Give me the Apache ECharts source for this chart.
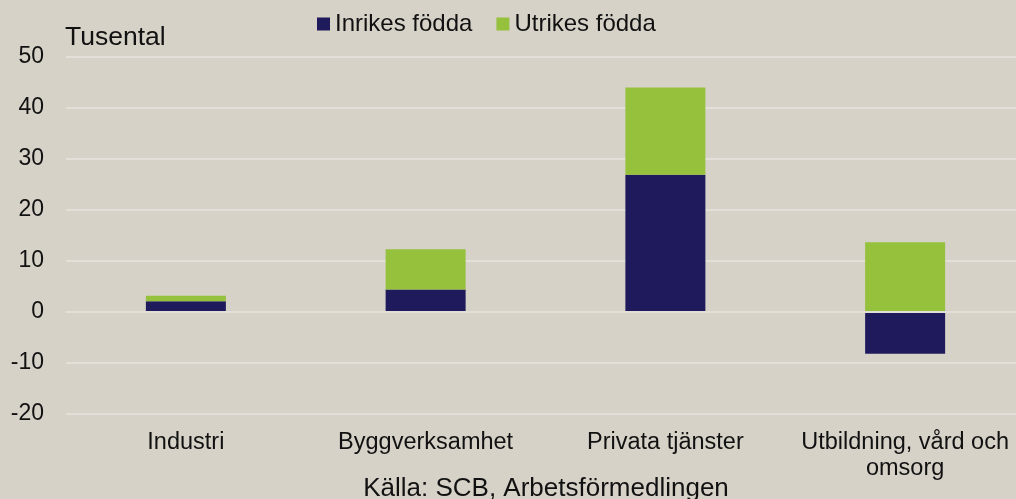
<!DOCTYPE html>
<html>
<head>
<meta charset="utf-8">
<script src="https://cdn.jsdelivr.net/npm/echarts@6/dist/echarts.min.js"></script>
<style>
  html, body { margin: 0; padding: 0; background: #D6D2C8; overflow: hidden; }
  /* plot runs a few px past the right edge in the original, so the canvas is a bit wider */
  #chart { width: 1025px; height: 499px; }
</style>
</head>
<body>
<div id="chart"></div>
<script>
const categories = ['Industri', 'Byggverksamhet', 'Privata tjänster', 'Utbildning, vård och\nomsorg']
const inrikes = [2.1, 4.4, 26.9, -8.2]
const utrikes = [1.1, 7.9, 17.1, 13.7]
const yTicks = { min: -20, max: 50, interval: 10 }

const font = 'Liberation Sans, Arial, sans-serif'
const gridColor = '#E2DFD9'

const chart = echarts.init(document.getElementById('chart'))

chart.setOption({
  backgroundColor: '#D6D2C8',
  color: ['#1F1A5C', '#95C13D'],
  animation: false,
  textStyle: { fontFamily: font },
  legend: {
    left: 317,
    top: 12,
    padding: 0,
    itemWidth: 13,
    itemHeight: 13,
    itemGap: 24,
    icon: 'rect',
    textStyle: { fontSize: 24, color: '#111', fontFamily: font },
    data: ['Inrikes födda', 'Utrikes födda']
  },
  graphic: [{
    type: 'text',
    x: 65,
    y: 38,
    style: { text: 'Tusental', fontSize: 26.5, fill: '#111', fontFamily: font, textVerticalAlign: 'middle' }
  }, {
    type: 'text',
    x: 546,
    y: 489,
    style: { text: 'Källa: SCB, Arbetsförmedlingen', fontSize: 26, fill: '#111', fontFamily: font, textAlign: 'center', textVerticalAlign: 'middle' }
  }],
  grid: {
    left: 66,
    top: 57,
    right: 0,
    height: 357
  },
  xAxis: {
    type: 'category',
    data: categories,
    z: 10,
    axisLine: { show: true, onZero: true, lineStyle: { color: gridColor, width: 2 } },
    axisTick: { show: false },
    axisLabel: {
      interval: 0,
      fontSize: 23.5,
      lineHeight: 26,
      color: '#111',
      fontFamily: font,
      margin: 0,
      padding: [16, 0, 0, 0]
    },
    position: 'bottom'
  },
  yAxis: {
    type: 'value',
    min: yTicks.min,
    max: yTicks.max,
    interval: yTicks.interval,
    axisLine: { show: false },
    axisTick: { show: false },
    splitLine: { lineStyle: { color: gridColor, width: 2 } },
    axisLabel: { fontSize: 23, color: '#111', margin: 22, fontFamily: font }
  },
  series: [{
    name: 'Inrikes födda',
    type: 'bar',
    stack: 'total',
    barWidth: 80,
    data: inrikes
  }, {
    name: 'Utrikes födda',
    type: 'bar',
    stack: 'total',
    barWidth: 80,
    data: utrikes
  }]
})
</script>
</body>
</html>
